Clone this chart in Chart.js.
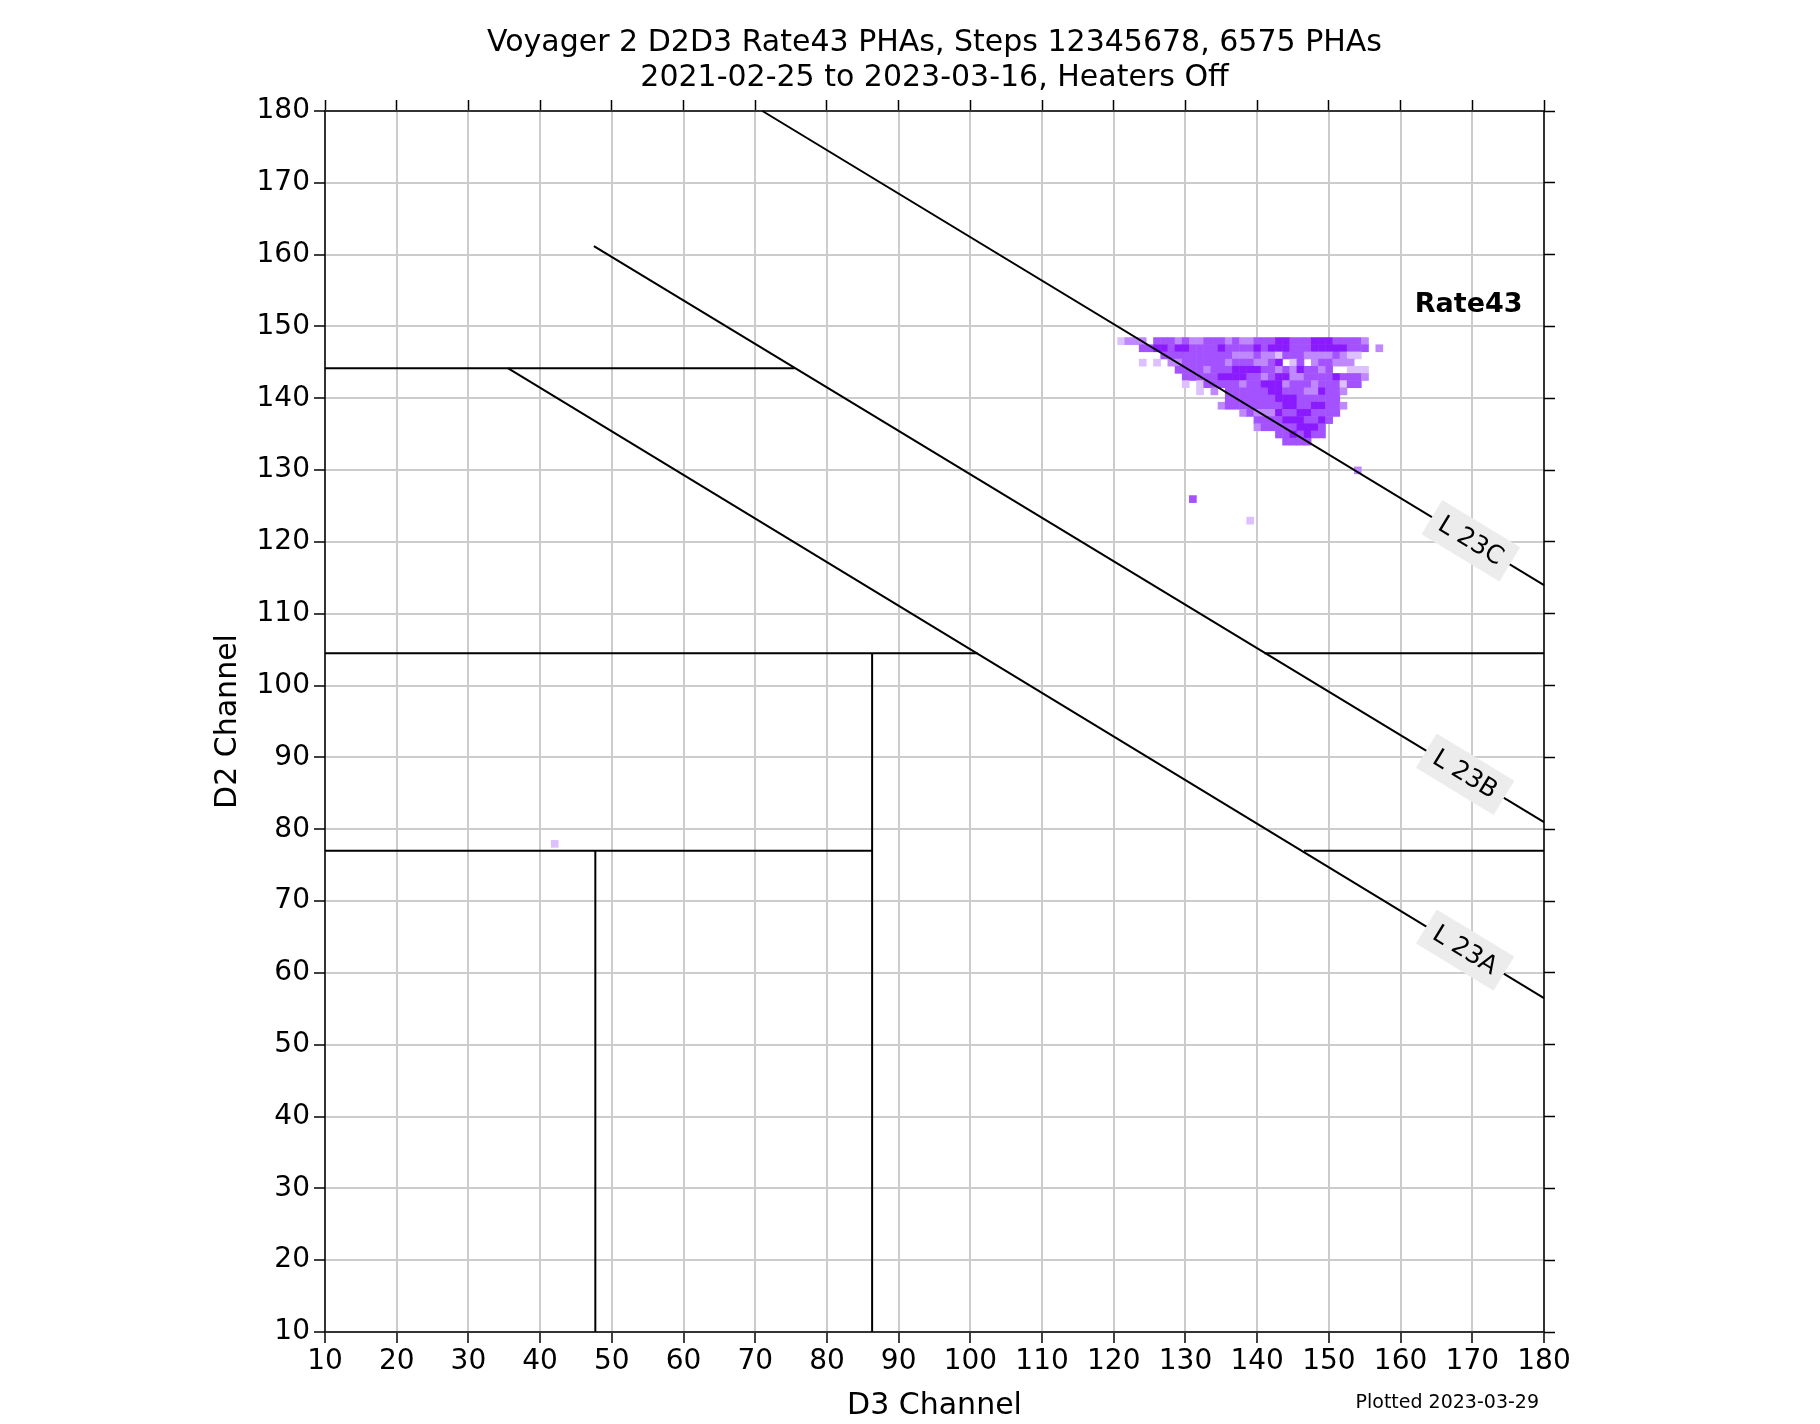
<!DOCTYPE html>
<html><head><meta charset="utf-8">
<script src="https://cdn.jsdelivr.net/npm/chart.js@4/dist/chart.umd.min.js"></script>
<style>html,body{margin:0;padding:0;background:#fff}</style>
</head><body>
<canvas id="c" width="1820" height="1424" style="width:1820px;height:1424px"></canvas>
<script>
const ticks = [10,20,30,40,50,60,70,80,90,100,110,120,130,140,150,160,170,180];
const titleLines = ["Voyager 2 D2D3 Rate43 PHAs, Steps 12345678, 6575 PHAs","2021-02-25 to 2023-03-16, Heaters Off"];
// heatmap rows: [D2, first D3, intensity string (0 empty,1..4 light->dark)]
const heatRows = [
 [148,121,"12220333232233323223334433344433332"],
 [147,124,"3344344333343333434443334444433302"],
 [146,127,"3333333333222322133322223211"],
 [145,124,"101022333333233322340130233222"],
 [144,129,"333323334444332324332300111"],
 [143,130,"33333444433234422333343332"],
 [142,130,"1013333323344423332333133"],
 [141,132,"102033333344333224332"],
 [140,136,"3333333444333333"],
 [139,135,"233333333443344332"],
 [138,138,"23222433443333"],
 [137,140,"33334443343"],
 [136,140,"2333334443"],
 [135,143,"3343433"],
 [134,144,"3333"],
 [130,154,"2"],[126,131,"3"],[123,139,"1"],[78,42,"1"]
];
const heatColors = ["", "#dcc0ff", "#bf88ff", "#a452ff", "#8a1aff"];
const boundaryLines = [
 {x:[71,180], y:[180,114]},
 {x:[47.5,180], y:[161.2,81]},
 {x:[35.5,180], y:[144.2,56.5]},
 {x:[10,75.5], y:[144.2,144.2]},
 {x:[10,101], y:[104.5,104.5]},
 {x:[141,180], y:[104.5,104.5]},
 {x:[86.3,86.3], y:[10,104.5]},
 {x:[10,86.3], y:[77,77]},
 {x:[146.5,180], y:[77,77]},
 {x:[47.7,47.7], y:[10,77]}
];
const lineLabels = [
 {text:"L 23C", x:169.8, line:0},
 {text:"L 23B", x:169.0, line:1},
 {text:"L 23A", x:169.0, line:2}
];

const datasets = boundaryLines.map(l => ({
  type:'line', data: l.x.map((v,i)=>({x:v,y:l.y[i]})),
  borderColor:'#000', borderWidth:2, pointRadius:0, fill:false, clip:false
}));

const heatPlugin = {
  id:'heat',
  beforeDatasetsDraw(chart){
    const {ctx, scales:{x,y}} = chart;
    ctx.save();
    heatRows.forEach(([d2, d3, s]) => {
      for (let k=0;k<s.length;k++){
        const lv = +s[k]; if(!lv) continue;
        const c = d3+k;
        const x0 = x.getPixelForValue(c-0.5), x1 = x.getPixelForValue(c+0.5);
        const y0 = y.getPixelForValue(d2+0.5), y1 = y.getPixelForValue(d2-0.5);
        ctx.fillStyle = heatColors[lv];
        ctx.fillRect(x0, y0, x1-x0+0.5, y1-y0+0.5);
      }
    });
    ctx.restore();
  },
  afterDatasetsDraw(chart){
    const {ctx, scales:{x,y}, chartArea:a} = chart;
    ctx.save();
    ctx.strokeStyle='#000'; ctx.lineWidth=1.5;
    ctx.strokeRect(a.left, a.top, a.right-a.left, a.bottom-a.top);
    lineLabels.forEach(L => {
      const bl = boundaryLines[L.line];
      const ly = bl.y[0] + (L.x-bl.x[0])*(bl.y[1]-bl.y[0])/(bl.x[1]-bl.x[0]);
      const ang = Math.atan2(y.getPixelForValue(bl.y[1])-y.getPixelForValue(bl.y[0]), x.getPixelForValue(bl.x[1])-x.getPixelForValue(bl.x[0]));
      const px = x.getPixelForValue(L.x), py = y.getPixelForValue(ly);
      ctx.save(); ctx.translate(px,py); ctx.rotate(ang);
      ctx.font = '25px "DejaVu Sans"';
      const w = ctx.measureText(L.text).width;
      ctx.fillStyle='#ececec'; ctx.fillRect(-w/2-10,-20,w+20,40);
      ctx.fillStyle='#000'; ctx.textAlign='center'; ctx.textBaseline='middle';
      ctx.fillText(L.text,0,1);
      ctx.restore();
    });
    ctx.font='bold 27px "DejaVu Sans"'; ctx.fillStyle='#000'; ctx.textAlign='center'; ctx.textBaseline='middle';
    ctx.fillText("Rate43", x.getPixelForValue(169.5), y.getPixelForValue(153));
    ctx.font='30px "DejaVu Sans"'; ctx.textBaseline='alphabetic';
    const cx = (a.left+a.right)/2;
    ctx.fillText(titleLines[0], cx, 51);
    ctx.fillText(titleLines[1], cx, 86);
    ctx.font='19px "DejaVu Sans"'; ctx.textAlign='right';
    ctx.fillText("Plotted 2023-03-29", a.right-5, 1408);
    ctx.save();
    ctx.translate(228, (a.top+a.bottom)/2); ctx.rotate(-Math.PI/2);
    ctx.font='30px "DejaVu Sans"'; ctx.textAlign='center'; ctx.textBaseline='middle';
    ctx.fillText("D2 Channel", 0, 0);
    ctx.restore();
    ctx.restore();
  }
};

const tickFont = {family:'"DejaVu Sans"', size:28};
new Chart(document.getElementById('c'), {
  data:{datasets},
  options:{
    responsive:false, animation:false, devicePixelRatio:1,
    layout:{padding:{top:99,left:0,right:0,bottom:0}},
    plugins:{legend:{display:false}, tooltip:{enabled:false}},
    scales:{
      x:{type:'linear', position:'bottom', min:10, max:180,
         afterBuildTicks(s){ s.ticks = ticks.map(v=>({value:v})); },
         afterFit(s){ s.height = 92; },
         grid:{color:'#cccccc', lineWidth:2, tickLength:11, tickColor:'#000', tickWidth:1.5},
         border:{display:false},
         ticks:{font:tickFont, color:'#000', padding:2, maxRotation:0, autoSkip:false},
         title:{display:true, text:'D3 Channel', font:{family:'"DejaVu Sans"', size:30}, color:'#000', padding:{top:0,bottom:0}}},
      x2:{type:'linear', position:'top', min:10, max:180,
         afterBuildTicks(s){ s.ticks = ticks.map(v=>({value:v})); },
         afterFit(s){ s.height = 12; },
         grid:{drawOnChartArea:false, tickLength:11, tickColor:'#000', tickWidth:1.5},
         border:{display:false}, ticks:{display:false}},
      y:{type:'linear', position:'left', min:10, max:180,
         afterBuildTicks(s){ s.ticks = ticks.map(v=>({value:v})); },
         afterFit(s){ s.width = 325; },
         grid:{color:'#cccccc', lineWidth:2, tickLength:11, tickColor:'#000', tickWidth:1.5},
         border:{display:false},
         ticks:{font:tickFont, color:'#000', padding:4, autoSkip:false}},
      y2:{type:'linear', position:'right', min:10, max:180,
         afterBuildTicks(s){ s.ticks = ticks.map(v=>({value:v})); },
         afterFit(s){ s.width = 276; },
         grid:{drawOnChartArea:false, tickLength:11, tickColor:'#000', tickWidth:1.5},
         border:{display:false}, ticks:{display:false}}
    }
  },
  plugins:[heatPlugin]
});
</script>
</body></html>
